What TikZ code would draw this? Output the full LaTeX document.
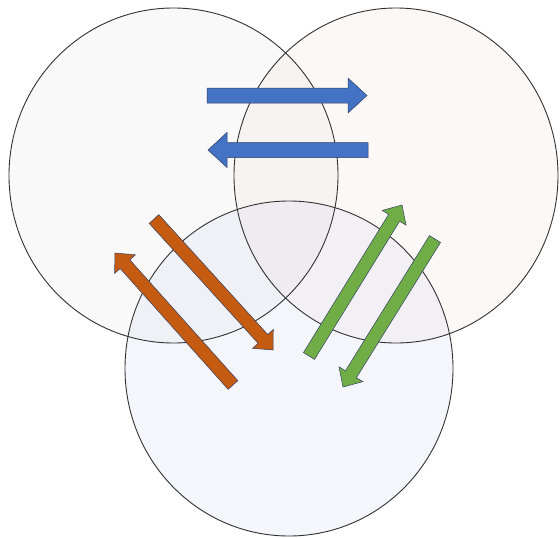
\documentclass[tikz,border=0pt]{standalone}
\usetikzlibrary{calc}
\definecolor{cLfill}{RGB}{222,222,226}
\definecolor{cRfill}{RGB}{240,212,196}
\definecolor{cBfill}{RGB}{205,212,236}
\definecolor{ringline}{RGB}{50,50,50}
\definecolor{arrblue}{RGB}{68,114,196}
\definecolor{arrorange}{RGB}{197,90,17}
\definecolor{arrgreen}{RGB}{112,173,71}
\definecolor{arredge}{RGB}{50,64,100}
\tikzset{
  ring/.style={draw=ringline, line width=0.9pt},
  blockblue/.style={fill=arrblue, draw=arredge, line width=0.5pt, line join=miter},
  blockorange/.style={fill=arrorange, draw=arredge, line width=0.5pt, line join=miter},
  blockgreen/.style={fill=arrgreen, draw=arredge, line width=0.5pt, line join=miter}
}
% #1 name, #2 style, #3 tail, #4 tip, #5 body half width, #6 head half width, #7 head length
\newcommand\blockarr[7]{%
  \coordinate (#1-b) at ($(#4)!#7!(#3)$);
  \draw[#2] ($(#3)!#5!90:(#4)$) -- ($(#1-b)!#5!90:(#4)$) -- ($(#1-b)!#6!90:(#4)$)
     -- (#4) -- ($(#1-b)!#6!-90:(#4)$) -- ($(#1-b)!#5!-90:(#4)$) -- ($(#3)!#5!-90:(#4)$) -- cycle;
}
\begin{document}
\begin{tikzpicture}[x=1pt,y=-1pt]
\useasboundingbox (0,0) rectangle (560,538);
\fill[white] (0,0) rectangle (560,538);
% circles
\coordinate (cL) at (173.5,175.5);
\coordinate (cR) at (396,175.5);
\coordinate (cB) at (289,368.5);
\fill[cLfill, fill opacity=0.18] (cL) ellipse [x radius=164.5, y radius=167.5];
\fill[cRfill, fill opacity=0.15] (cR) ellipse [x radius=162, y radius=167.5];
\fill[cBfill, fill opacity=0.2] (cB) ellipse [x radius=164, y radius=167.5];
\draw[ring] (cL) ellipse [x radius=164.5, y radius=167.5];
\draw[ring] (cR) ellipse [x radius=162, y radius=167.5];
\draw[ring] (cB) ellipse [x radius=164, y radius=167.5];
% blue arrows
\coordinate (b1t) at (207,95.5);
\coordinate (b1h) at (367,95.5);
\coordinate (b2t) at (368,150);
\coordinate (b2h) at (208,150);
\blockarr{ba1}{blockblue}{b1t}{b1h}{7.5pt}{17.5pt}{19pt}
\blockarr{ba2}{blockblue}{b2t}{b2h}{7.5pt}{17.5pt}{19pt}
% orange arrows
\coordinate (o1t) at (233,385);
\coordinate (o1h) at (115,253);
\coordinate (o2t) at (154,219);
\coordinate (o2h) at (273,350);
\blockarr{oa1}{blockorange}{o1t}{o1h}{6.5pt}{14pt}{15pt}
\blockarr{oa2}{blockorange}{o2t}{o2h}{6.5pt}{14pt}{15pt}
% green arrows
\coordinate (g1t) at (309,356);
\coordinate (g1h) at (402,205);
\coordinate (g2t) at (435,239);
\coordinate (g2h) at (343,387);
\blockarr{ga1}{blockgreen}{g1t}{g1h}{6.5pt}{14pt}{15pt}
\blockarr{ga2}{blockgreen}{g2t}{g2h}{6.5pt}{14pt}{15pt}
\end{tikzpicture}
\end{document}
